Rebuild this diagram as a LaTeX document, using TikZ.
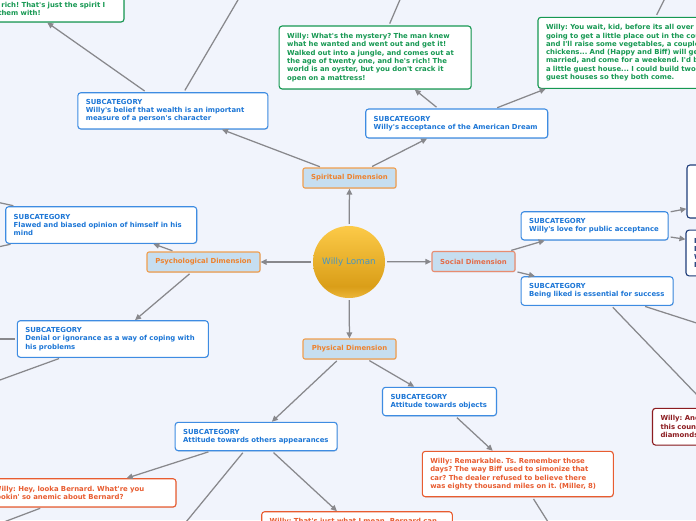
\documentclass[tikz,border=0pt]{standalone}
\usepackage{fontspec}
\setmainfont{DejaVu Sans}[Ligatures=TeXOff]
\usetikzlibrary{arrows.meta,shadows}
\definecolor{bgcolor}{RGB}{241,244,252}
\definecolor{linkgray}{RGB}{136,136,140}
\definecolor{dimfill}{RGB}{198,222,240}
\definecolor{dimedge}{RGB}{240,158,78}
\definecolor{dimtext}{RGB}{238,130,45}
\definecolor{socedge}{RGB}{232,140,112}
\definecolor{soctext}{RGB}{228,108,72}
\definecolor{subcolor}{RGB}{28,118,214}
\definecolor{subedge}{RGB}{62,140,226}
\definecolor{greencolor}{RGB}{22,152,82}
\definecolor{orangecolor}{RGB}{232,92,48}
\definecolor{navycolor}{RGB}{32,62,122}
\definecolor{redcolor}{RGB}{140,28,32}
\definecolor{nametext}{RGB}{72,150,192}
\definecolor{goldtop}{RGB}{252,202,72}
\definecolor{golddark}{RGB}{218,158,24}
\definecolor{goldrim}{RGB}{236,182,58}
\pgfdeclareverticalshading{goldball}{100bp}{color(0bp)=(goldrim); color(25bp)=(goldrim); color(33bp)=(golddark); color(75bp)=(goldtop); color(100bp)=(goldtop)}
\frenchspacing

\begin{document}
\begin{tikzpicture}[
    x=1pt, y=-1pt,
    root/.style={circle, minimum size=72pt, inner sep=0pt, shading=goldball, text=nametext, font=\fontsize{8.8}{10}\selectfont},
    dimbox/.style={rectangle, rounded corners=2pt, fill=dimfill, draw=dimedge, text=dimtext, line width=1.1pt, minimum height=20pt, inner sep=0pt, font=\fontsize{6.9}{8.3}\selectfont\bfseries, drop shadow={opacity=0.18, shadow xshift=0.6pt, shadow yshift=-0.8pt}},
    card/.style={rectangle, rounded corners=3pt, fill=white, line width=1.1pt, inner xsep=8pt, inner ysep=2pt, align=left, font=\fontsize{6.9}{8.3}\selectfont\bfseries, drop shadow={opacity=0.18, shadow xshift=0.6pt, shadow yshift=-0.8pt}},
    subbox/.style={card, draw=subedge, text=subcolor},
    greenbox/.style={card, draw=greencolor, text=greencolor},
    orangebox/.style={card, draw=orangecolor, text=orangecolor},
    navybox/.style={card, draw=navycolor, text=navycolor},
    redbox/.style={card, draw=redcolor, text=redcolor},
    link/.style={->, >={Triangle[length=6pt, width=5.5pt]}, draw=linkgray, line width=1.25pt, shorten <=2pt}
]
\useasboundingbox (0,0) rectangle (696,520);
\clip (0,0) rectangle (696,520);
\fill[bgcolor] (0,0) rectangle (696,520);

% centre
\node[root] (willy) at (349,262) {Willy Loman};

% dimensions
\node[dimbox, minimum width=93pt] (spirit) at (349.5,178) {Spiritual Dimension};
\node[dimbox, minimum width=93pt] (phys) at (349.5,349) {Physical Dimension};
\node[dimbox, minimum width=113pt] (psych) at (203.5,262) {Psychological Dimension};
\node[dimbox, minimum width=83pt, draw=socedge, text=soctext] (social) at (473.5,261.5) {Social Dimension};

% spiritual
\node[subbox, text width=174pt, minimum height=36.3pt] (wealth) at (172.85,110.85) {SUBCATEGORY\\Willy's belief that wealth is an important\\measure of a person's character};
\node[subbox, text width=166pt, minimum height=29pt] (dream) at (456.7,123.5) {SUBCATEGORY\\Willy's acceptance of the American Dream};
\node[greenbox, text width=176pt, minimum height=26pt] (jungle) at (28,9) {out and he was rich! That's just the spirit I\\want to imbue them with!};
\node[greenbox, text width=176pt, minimum height=63pt] (mystery) at (375.15,57.5) {Willy: What's the mystery? The man knew\\what he wanted and went out and get it!\\Walked out into a jungle, and comes out at\\the age of twenty one, and he's rich! The\\world is an oyster, but you don't crack it\\open on a mattress!};
\node[greenbox, text width=184pt, minimum height=71pt] (country) at (638,52.8) {Willy: You wait, kid, before its all over we're\\going to get a little place out in the country,\\and I'll raise some vegetables, a couple of\\chickens... And (Happy and Biff) will get\\married, and come for a weekend. I'd build\\a little guest house... I could build two\\guest houses so they both come.};
\coordinate (wealthUp) at (245,-12);
\coordinate (mysteryUp) at (405,-12);
\coordinate (countryUp) at (670,-12);

% psychological
\node[subbox, text width=175pt, minimum height=36.6pt] (flawed) at (101.2,225) {SUBCATEGORY\\Flawed and biased opinion of himself in his\\mind};
\node[subbox, text width=175pt, minimum height=36.6pt] (denial) at (112.8,339) {SUBCATEGORY\\Denial or ignorance as a way of coping with\\his problems};
\coordinate (flawedA) at (-40,194);
\coordinate (flawedB) at (-40,255);
\coordinate (denialA) at (-40,339);
\coordinate (denialB) at (-40,394.5);

% social
\node[subbox, text width=131pt, minimum height=28.3pt] (public) at (594.65,225.85) {SUBCATEGORY\\Willy's love for public acceptance};
\node[subbox, text width=136pt, minimum height=28.6pt] (liked) at (597.15,291) {SUBCATEGORY\\Being liked is essential for success};
\node[navybox, text width=170pt, minimum height=53pt] (navyA) at (780,191.5) {};
\node[navybox, text width=170pt, minimum height=45.7pt] (navyB) at (779,253) {I\\I\\W\\I};
\node[redbox, text width=134pt, minimum height=36.7pt] (diamonds) at (727.5,426.7) {Willy: And\\this country\\diamonds};
\coordinate (likedRight) at (740,337);

% physical
\node[subbox, text width=98pt, minimum height=28.4pt] (objects) at (439.5,401.5) {SUBCATEGORY\\Attitude towards objects};
\node[subbox, text width=146pt, minimum height=28.4pt] (appear) at (256.15,436.5) {SUBCATEGORY\\Attitude towards others appearances};
\node[orangebox, text width=175pt, minimum height=45.4pt] (remark) at (517.8,474) {Willy: Remarkable. Ts. Remember those\\days? The way Biff used to simonize that\\car? The dealer refused to believe there\\was eighty thousand miles on it. (Miller, 8)};
\node[orangebox, text width=174pt, minimum height=28.3pt] (bernard) at (81,492.85) {Willy: Hey, looka Bernard. What're you\\lookin' so anemic about Bernard?};
\node[orangebox, text width=174.6pt, minimum height=36pt] (mygod) at (357,529.7) {Willy: That's just what I mean. Bernard can\\get the best marks in school, y'understand,\\but when he gets out in the business world};
\coordinate (remarkDown) at (555,533);
\coordinate (appearDown) at (177,533);
\coordinate (bernardDown) at (-20,531);

% connectors
\draw[link] (willy) -- (spirit);
\draw[link] (willy) -- (phys);
\draw[link] (willy) -- (psych);
\draw[link] (willy) -- (social);
\draw[link] (spirit) -- (wealth);
\draw[link] (spirit) -- (dream);
\draw[link] (wealth) -- (jungle);
\draw[link] (wealth) -- (wealthUp);
\draw[link] (dream) -- (mystery);
\draw[link] (dream) -- (country);
\draw[link] (mystery) -- (mysteryUp);
\draw[link] (country) -- (countryUp);
\draw[link] (psych) -- (flawed);
\draw[link] (psych) -- (denial);
\draw[link] (flawed) -- (flawedA);
\draw[link] (flawed) -- (flawedB);
\draw[link] (denial) -- (denialA);
\draw[link] (denial) -- (denialB);
\draw[link] (social) -- (public);
\draw[link] (social) -- (liked);
\draw[link] (public) -- (navyA);
\draw[link] (public) -- (navyB);
\draw[link] (liked) -- (likedRight);
\draw[link] (liked) -- (diamonds);
\draw[link] (phys) -- (objects);
\draw[link] (phys) -- (appear);
\draw[link] (objects) -- (remark);
\draw[link] (remark) -- (remarkDown);
\draw[link] (appear) -- (bernard);
\draw[link] (appear) -- (appearDown);
\draw[link] (appear) -- (mygod);
\draw[link] (bernard) -- (bernardDown);

\end{tikzpicture}
\end{document}
